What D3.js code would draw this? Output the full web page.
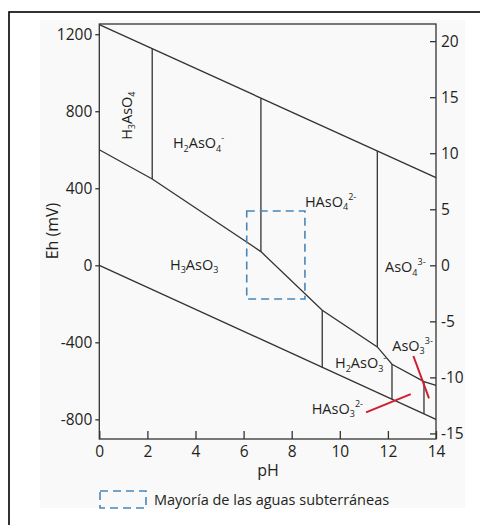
<!DOCTYPE html>
<html>
<head>
<meta charset="utf-8">
<script src="https://cdn.jsdelivr.net/npm/d3@7"></script>
<style>
  body { margin: 0; background: #fff; }
  text { font-family: "Open Sans", "Noto Sans", sans-serif; fill: #231f20; }
</style>
</head>
<body>
<div id="chart"></div>
<script>
// Data (pH, Eh in mV)
var phTicks = [0, 2, 4, 6, 8, 10, 12, 14];
var ehTicks = [-800, -400, 0, 400, 800, 1200];
var peTicks = [-15, -10, -5, 0, 5, 10, 15, 20];

var waterUpper = [[0, 1250], [14, 455]];
var waterLower = [[0, 0], [14, -800]];
var redoxLine = [[0, 600], [2.2, 448], [6.72, 71], [9.27, -233], [11.56, -424],
                 [12.17, -514], [13.5, -604], [14, -624]];

// vertical boundaries: pH, Eh top, Eh bottom
var verticals = [[2.2, 1125, 448], [6.72, 868, 71], [11.56, 593, -424],
                 [9.27, -233, -530], [12.17, -514, -695], [13.5, -604, -771]];

var redLines = [[[11.09, -764], [12.95, -669]], [[13.06, -471], [13.71, -691]]];

var groundwaterBox = {ph: [6.13, 8.55], eh: [-175, 282]};

var species = [
  ["H", "_3", "AsO", "_4"],
  ["H", "_2", "AsO", "_4", "^-"],
  ["HAsO", "_4", "^2-"],
  ["H", "_3", "AsO", "_3"],
  ["AsO", "_4", "^3-"],
  ["H", "_2", "AsO", "_3", "^-"],
  ["AsO", "_3", "^3-"],
  ["HAsO", "_3", "^2-"]
];

var svgWidth = 480;
var svgHeight = 525;

var margin = {top: 24, right: 44, bottom: 86, left: 99.3};
var width = svgWidth - margin.left - margin.right;
var height = svgHeight - margin.top - margin.bottom;

var svg = d3.select("#chart")
  .append("svg")
  .attr("width", svgWidth)
  .attr("height", svgHeight);

// light panel + outer frame (cut off at right / bottom)
svg.append("rect")
  .attr("x", 40).attr("y", 20).attr("width", 425).attr("height", 488)
  .attr("fill", "#f9f9f9");
svg.append("rect")
  .attr("x", 9).attr("y", 12).attr("width", 500).attr("height", 540)
  .attr("fill", "none").attr("stroke", "#000").attr("stroke-width", 1.6);

var chartGroup = svg.append("g")
  .attr("transform", `translate(${margin.left}, ${margin.top})`);

// Scales
// ==============================
var xScale = d3.scaleLinear().domain([0, 14]).range([0, width]);
var yScale = d3.scaleLinear().domain([-902, 1253]).range([height, 0]);
var mvPerPe = 58.2;
var peScale = d3.scaleLinear()
  .domain([-902 / mvPerPe, 1253 / mvPerPe])
  .range([height, 0]);

// Axes
// ==============================
var lineColor = "#333";
var tickFont = "15.5px";
var plain = d => String(d);

var leftAxis = d3.axisLeft(yScale).tickValues(ehTicks).tickFormat(plain)
  .tickSize(4).tickPadding(3);
var bottomAxis = d3.axisBottom(xScale).tickValues(phTicks).tickFormat(plain)
  .tickSize(-8).tickPadding(7);
var rightAxis = d3.axisRight(peScale).tickValues(peTicks).tickFormat(plain)
  .tickSize(-6).tickPadding(5);

var gl = chartGroup.append("g").call(leftAxis);
var gb = chartGroup.append("g").attr("transform", `translate(0, ${height})`).call(bottomAxis);
var gr = chartGroup.append("g").attr("transform", `translate(${width}, 0)`).call(rightAxis);

[gl, gb, gr].forEach(function(g) {
  g.select(".domain").remove();
  g.selectAll(".tick line").attr("stroke", lineColor).attr("stroke-width", 1.3);
  g.selectAll(".tick text")
    .style("font-family", "'Open Sans', sans-serif")
    .style("font-size", tickFont)
    .attr("fill", "#231f20");
});

// plot frame
chartGroup.append("rect")
  .attr("width", width).attr("height", height)
  .attr("fill", "none").attr("stroke", lineColor).attr("stroke-width", 1.3);

// Boundary lines
// ==============================
var line = d3.line().x(d => xScale(d[0])).y(d => yScale(d[1]));

[waterUpper, waterLower, redoxLine].forEach(function(pts) {
  chartGroup.append("path")
    .attr("d", line(pts))
    .attr("fill", "none")
    .attr("stroke", lineColor)
    .attr("stroke-width", 1.3);
});

chartGroup.selectAll(".vline")
  .data(verticals)
  .enter()
  .append("line")
  .attr("x1", d => xScale(d[0]))
  .attr("x2", d => xScale(d[0]))
  .attr("y1", d => yScale(d[1]))
  .attr("y2", d => yScale(d[2]))
  .attr("stroke", lineColor)
  .attr("stroke-width", 1.3);

chartGroup.selectAll(".redline")
  .data(redLines)
  .enter()
  .append("path")
  .attr("d", d => line(d))
  .attr("stroke", "#cf1f2e")
  .attr("stroke-width", 2);

// groundwater box
chartGroup.append("rect")
  .attr("x", xScale(groundwaterBox.ph[0]))
  .attr("y", yScale(groundwaterBox.eh[1]))
  .attr("width", xScale(groundwaterBox.ph[1]) - xScale(groundwaterBox.ph[0]))
  .attr("height", yScale(groundwaterBox.eh[0]) - yScale(groundwaterBox.eh[1]))
  .attr("fill", "none")
  .attr("stroke", "#4a86b8")
  .attr("stroke-width", 1.6)
  .attr("stroke-dasharray", "8,5");

// Species labels (pH, Eh anchor, rotation)
// ==============================
var labelPos = [[1.35, 777, -90], [3.06, 609, 0], [8.55, 303, 0], [2.94, -24, 0],
                [11.88, -35, 0], [9.8, -534, 0], [12.18, -445, 0], [8.83, -772, 0]];

species.forEach(function(parts, i) {
  var p = labelPos[i];
  var t = chartGroup.append("text")
    .attr("transform", `translate(${xScale(p[0])}, ${yScale(p[1])}) rotate(${p[2]})`)
    .attr("text-anchor", p[2] ? "middle" : "start")
    .attr("dy", p[2] ? "0.35em" : 0)
    .style("font-size", "14.5px");
  var shift = 0;
  parts.forEach(function(s) {
    var target = 0, txt = s, size = "14.5px";
    if (s[0] === "_") { target = 3.5; txt = s.slice(1); size = "9px"; }
    if (s[0] === "^") { target = -7; txt = s.slice(1); size = "9px"; }
    t.append("tspan")
      .attr("dy", target - shift)
      .style("font-size", size)
      .text(txt);
    shift = target;
  });
});

// Axis labels
// ==============================
chartGroup.append("text")
  .attr("transform", `translate(${52 - margin.left}, ${231 - margin.top}) rotate(-90)`)
  .attr("text-anchor", "middle")
  .attr("dy", "0.35em")
  .style("font-size", "16px")
  .text("Eh (mV)");

chartGroup.append("text")
  .attr("x", 268 - margin.left)
  .attr("y", 470 - margin.top)
  .attr("text-anchor", "middle")
  .attr("dy", "0.35em")
  .style("font-size", "16px")
  .text("pH");

// Legend
// ==============================
svg.append("rect")
  .attr("x", 100).attr("y", 491).attr("width", 46).attr("height", 17)
  .attr("fill", "none")
  .attr("stroke", "#4a86b8")
  .attr("stroke-width", 1.6)
  .attr("stroke-dasharray", "8,5");

svg.append("text")
  .attr("x", 154)
  .attr("y", 500)
  .attr("dy", "0.35em")
  .style("font-size", "14.5px")
  .text("Mayoría de las aguas subterráneas");
</script>
</body>
</html>
